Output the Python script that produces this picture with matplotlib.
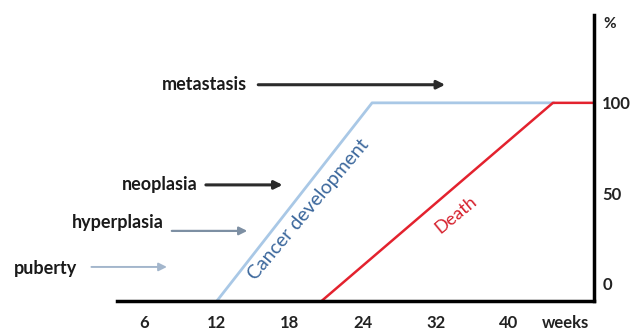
import numpy as np
import matplotlib
matplotlib.use("Agg")
from matplotlib import pyplot as plt

# tick weeks on the x axis (spaced evenly, not linearly, in the original)
tick_weeks = [6, 12, 18, 24, 32, 40]
tick_labels = ["6", "12", "18", "24", "32", "40"]
pct_ticks = [0, 50, 100]

# curves: weeks vs % (start at the x axis line)
base = -9.4
cancer_weeks = [12, 25, 45]
cancer_pct = [base, 100, 100]
death_weeks = [20.6, 44.8, 49.3]
death_pct = [base, 100, 100]

# stage labels and arrows
stages = ["metastasis", "neoplasia", "hyperplasia", "puberty"]
stage_text_x = [14.5, 10.4, 7.6, 0.5]
stage_text_y = [110, 54.7, 33.7, 8.8]
arrow_start = [15.4, 11.1, 8.3, 1.7]
arrow_end = [33.0, 17.4, 14.5, 7.9]
arrow_y = [110, 54.7, 29.3, 9.4]
arrow_col = ["#2b2b2b", "#2b2b2b", "#7d8fa3", "#a3b6cc"]
arrow_lw = [2.2, 2.2, 1.6, 1.4]

#%%
# piecewise scale so the uneven week ticks sit evenly
wk_nodes = np.array([-6, 6, 12, 18, 24, 32, 40, 80], dtype=float)
ix_nodes = np.array([-2, 0, 1, 2, 3, 4, 5, 10], dtype=float)

def fwd(w):
    return np.interp(w, wk_nodes, ix_nodes)

def inv(i):
    return np.interp(i, ix_nodes, wk_nodes)

plt.rcParams['font.family'] = ['Lato', 'DejaVu Sans']

fig = plt.figure(figsize=(6.33, 3.31), dpi=100)
ax = fig.add_axes([117/633, 1-301/331, (594-117)/633, (301-15)/331])
ax.set_xscale('function', functions=(fwd, inv))
ax.set_xlim(3.8, 49.3)
ax.set_ylim(base, 148.5)

ax.plot(cancer_weeks, cancer_pct, color="#a9c8e6", lw=2, solid_capstyle='butt')
ax.plot(death_weeks, death_pct, color="#e3222e", lw=1.8, solid_capstyle='butt')

for lab, tx, ty, a0, a1, ay, c, lw in zip(stages, stage_text_x, stage_text_y,
                                          arrow_start, arrow_end, arrow_y, arrow_col, arrow_lw):
    ax.text(tx, ty, lab, ha='right', va='center', fontsize=13, fontweight='bold',
            color="#1a1a1a", clip_on=False)
    ax.annotate("", xy=(a1, ay), xytext=(a0, ay), annotation_clip=False,
                arrowprops=dict(arrowstyle='-|>', color=c, lw=lw,
                                mutation_scale=12, shrinkA=0, shrinkB=0))

ax.text(19.5, 40.9, "Cancer development", rotation=50, ha='center', va='center',
        rotation_mode='anchor', fontsize=14, color="#3b679c")
ax.text(34.2, 38.1, "Death", rotation=39.5, ha='center', va='center',
        rotation_mode='anchor', fontsize=13, color="#d61f2c")

for s in ['left', 'top']:
    ax.spines[s].set_visible(False)
ax.spines['bottom'].set_linewidth(2.5)
ax.spines['right'].set_linewidth(2.5)

ax.set_xticks(tick_weeks + [46.2])
ax.set_xticklabels(tick_labels + ["weeks"], fontsize=12, fontweight='bold', color="#222222")
ax.tick_params(axis='x', length=0, pad=10)

ax.yaxis.tick_right()
ax.set_yticks(pct_ticks)
ax.set_yticklabels([str(p) for p in pct_ticks], fontsize=12, fontweight='bold', color="#222222")
ax.tick_params(axis='y', length=0, pad=6)
ax.text(1.02, 0.97, "%", transform=ax.transAxes, ha='left', va='center',
        fontsize=11, fontweight='bold', color="#222222")

fig.savefig("out.png", dpi=100)
